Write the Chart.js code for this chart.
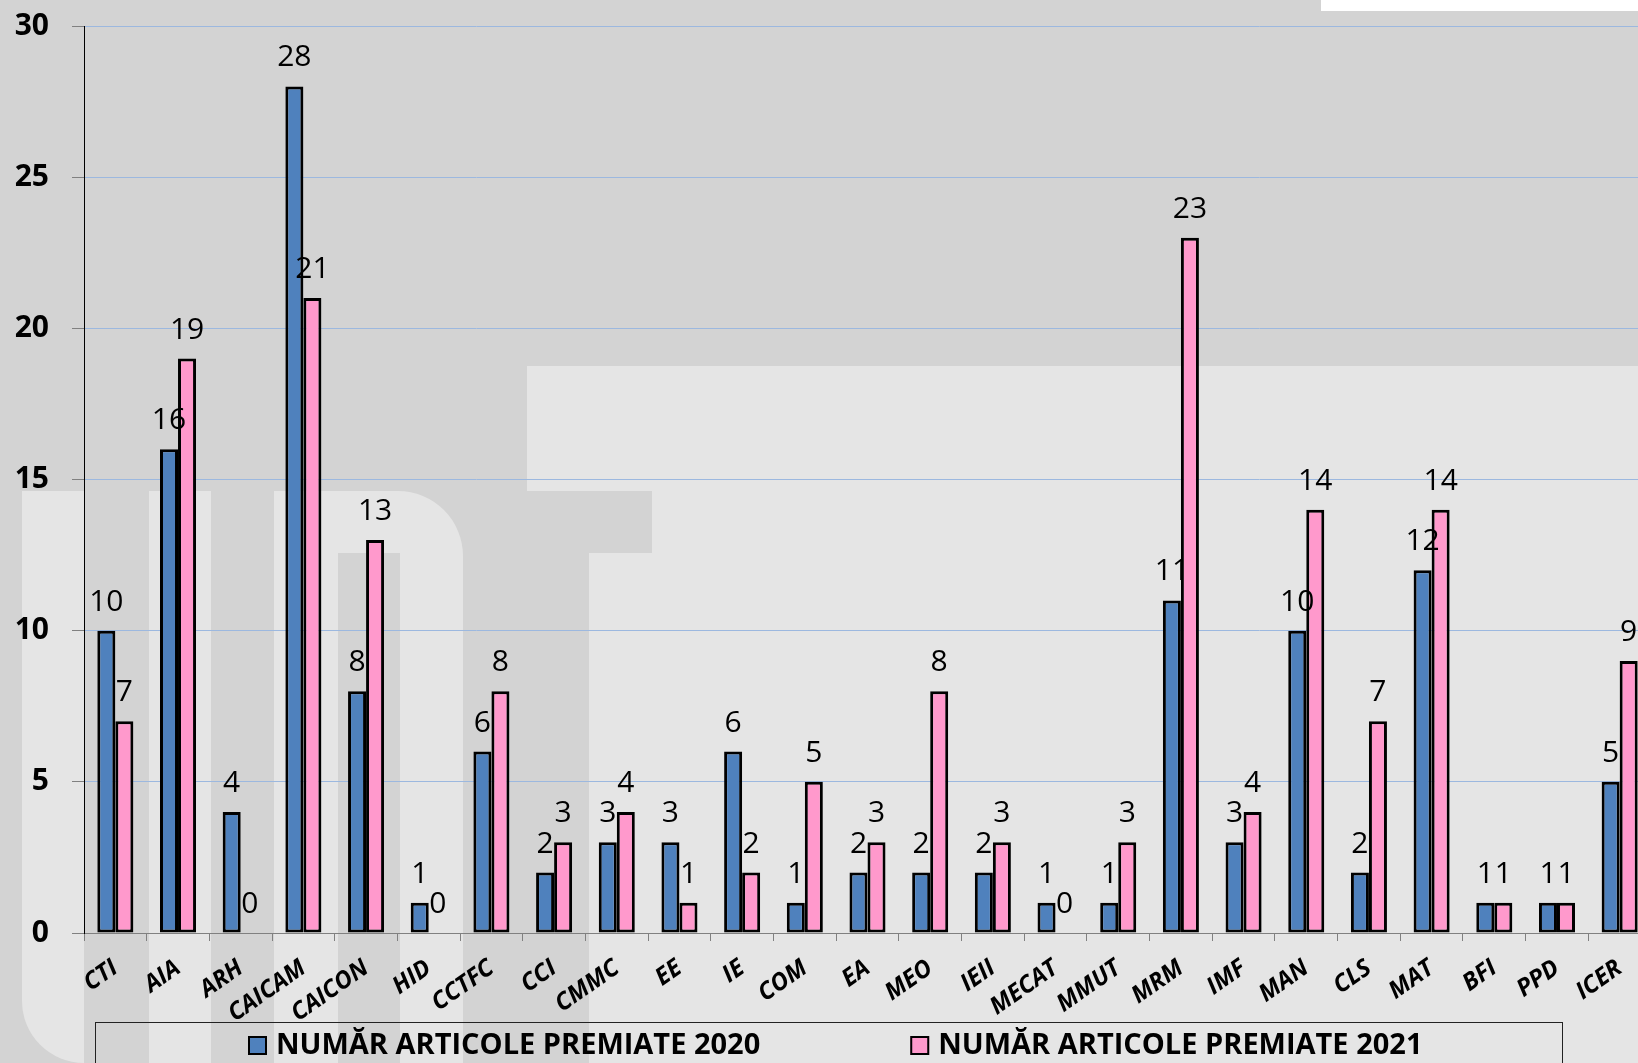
<!DOCTYPE html>
<html lang="ro">
<head>
  <meta charset="UTF-8">
  <title>Număr articole premiate 2020 / 2021</title>
  <script src="https://cdn.jsdelivr.net/npm/chart.js"></script>
  <style>
    html, body {margin:0; padding:0; width:1638px; height:1063px; overflow:hidden; background:#d3d3d3}
    .wm {position:absolute; background:#e5e5e5}
    .dk {position:absolute; background:#d3d3d3}
    #wrap {position:absolute; left:0; top:0; width:1651px; height:1063px}
  </style>
</head>
<body>
  <!-- watermark UPT in fundal -->
  <div class="wm" style="left:1321px;top:0;width:317px;height:11px;background:#fff"></div>
  <div class="wm" style="left:22px;top:491px;width:62px;height:572px;border-bottom-left-radius:70px"></div>
  <div class="wm" style="left:149px;top:491px;width:62px;height:572px"></div>
  <div class="wm" style="left:274px;top:491px;width:189px;height:572px;border-top-right-radius:65px"></div>
  <div class="dk" style="left:338px;top:553px;width:62px;height:510px"></div>
  <div class="wm" style="left:527px;top:366px;width:1111px;height:125px"></div>
  <div class="wm" style="left:652px;top:491px;width:986px;height:62px"></div>
  <div class="wm" style="left:589px;top:553px;width:1049px;height:510px"></div>

  <div id="wrap"><canvas id="barChart" width="1651" height="1063"></canvas></div>

<script>
const categorii = ['CTI','AIA','ARH','CAICAM','CAICON','HID','CCTFC','CCI','CMMC','EE','IE','COM','EA',
                   'MEO','IEII','MECAT','MMUT','MRM','IMF','MAN','CLS','MAT','BFI','PPD','ICER'];
const premiate2020 = [10,16,4,28,8,1,6,2,3,3,6,1,2,2,2,1,1,11,3,10,2,12,1,1,5];
const premiate2021 = [7,19,0,21,13,0,8,3,4,1,2,5,3,8,3,0,3,23,4,14,7,14,1,1,9];
const tickuriY = [0,5,10,15,20,25,30];

const FONT = "'Open Sans', 'Noto Sans', sans-serif";

// etichete cu valoarea deasupra fiecarei bare
const eticheteValori = {
  id: 'eticheteValori',
  afterDatasetsDraw(chart) {
    const ctx = chart.ctx;
    ctx.save();
    ctx.font = '30px ' + FONT;
    ctx.fillStyle = '#000';
    ctx.textAlign = 'center';
    ctx.textBaseline = 'alphabetic';
    chart.data.datasets.forEach((ds, i) => {
      chart.getDatasetMeta(i).data.forEach((bar, j) => {
        ctx.fillText(String(ds.data[j]), bar.x, bar.y - 20);
      });
    });
    ctx.restore();
  }
};

// legenda in chenar, ca in Excel
const legendaChenar = {
  id: 'legendaChenar',
  afterDraw(chart) {
    const ctx = chart.ctx;
    ctx.save();
    ctx.strokeStyle = '#222';
    ctx.lineWidth = 1;
    ctx.strokeRect(95.5, 1022.5, 1467, 80);
    ctx.font = 'bold 29px ' + FONT;
    ctx.textBaseline = 'middle';
    ctx.textAlign = 'left';
    let x = 248;
    chart.data.datasets.forEach(ds => {
      ctx.fillStyle = ds.backgroundColor;
      ctx.fillRect(x, 1036, 19, 19);
      ctx.strokeStyle = '#000';
      ctx.lineWidth = 2;
      ctx.strokeRect(x + 1, 1037, 17, 17);
      ctx.fillStyle = '#000';
      ctx.fillText(ds.label, x + 28, 1046);
      x += 28 + ctx.measureText(ds.label).width + 150;
    });
    ctx.restore();
  }
};

new Chart(document.getElementById('barChart'), {
  type: 'bar',
  data: {
    labels: categorii,
    datasets: [
      { label: 'NUMĂR ARTICOLE PREMIATE 2020', data: premiate2020,
        backgroundColor: '#4f81bd', borderColor: '#000', borderWidth: 3, borderSkipped: false },
      { label: 'NUMĂR ARTICOLE PREMIATE 2021', data: premiate2021,
        backgroundColor: '#ff99cc', borderColor: '#000', borderWidth: 3, borderSkipped: false }
    ]
  },
  options: {
    responsive: false,
    animation: false,
    layout: { padding: { top: 26, left: 0, right: 0, bottom: 0 } },
    datasets: { bar: { categoryPercentage: 0.575, barPercentage: 1 } },
    plugins: { legend: { display: false }, tooltip: { enabled: false } },
    scales: {
      x: {
        grid: { drawOnChartArea: false, drawTicks: true, tickLength: 8, tickColor: '#808080' },
        border: { color: '#808080', width: 1 },
        ticks: {
          color: '#000', font: { family: FONT, size: 24, weight: 'bold', style: 'italic' },
          maxRotation: 35, minRotation: 35, autoSkip: false, padding: 13
        },
        afterFit(scale) { scale.height = 130; }
      },
      y: {
        min: 0, max: 30,
        afterBuildTicks(scale) { scale.ticks = tickuriY.map(v => ({ value: v })); },
        grid: { color: '#9cb8df', lineWidth: 1, tickLength: 12, tickColor: '#808080' },
        border: { color: '#000', width: 1 },
        ticks: { color: '#000', font: { family: FONT, size: 30, weight: 'bold' }, padding: 23 },
        afterFit(scale) {
          scale.width = 84;
          scale.paddingTop = 0;
          scale.paddingBottom = 0;
        }
      }
    }
  },
  plugins: [eticheteValori, legendaChenar]
});
</script>
</body>
</html>
